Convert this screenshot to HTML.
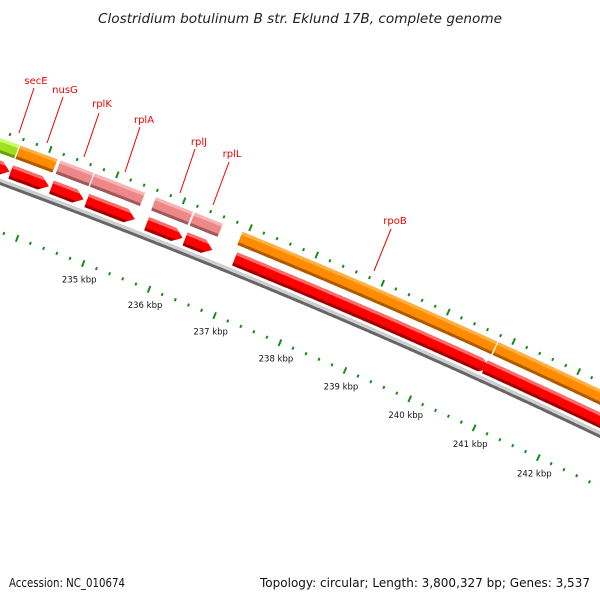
<!DOCTYPE html>
<html><head><meta charset="utf-8"><style>
html,body{margin:0;padding:0;background:#fff;}
svg{display:block;}
text{font-family:"DejaVu Sans","Liberation Sans",sans-serif;}
</style></head><body>
<svg id="chart" width="600" height="600" viewBox="0 0 600 600" xmlns="http://www.w3.org/2000/svg">
<text x="300" y="23" text-anchor="middle" font-size="13" font-style="italic" fill="#222" textLength="404" lengthAdjust="spacingAndGlyphs">Clostridium botulinum B str. Eklund 17B, complete genome</text>
<g id="track"></g>
<g id="labels"></g>
<text x="9" y="587" font-size="12.5" fill="#111" textLength="116" lengthAdjust="spacingAndGlyphs">Accession: NC_010674</text>
<text x="260" y="587" font-size="12.5" fill="#111" textLength="330" lengthAdjust="spacingAndGlyphs">Topology: circular; Length: 3,800,327 bp; Genes: 3,537</text>
</svg>
<script>
// data (kbp)
const fwdNames = ["secE","nusG","rplK","rplA","rplJ","rplL","rpoB","next-fwd"];
const fwdStart = [233.27,233.59,234.19,234.70,235.62,236.20,236.92,240.81];
const fwdEnd   = [233.57,234.14,234.68,235.45,236.17,236.62,240.79,244.5];
const fwdKind  = ["lime","orange","pink","pink","pink","pink","orange","orange"];
const revStart = [233.0,233.59,234.20,234.73,235.63,236.21,236.96,240.78];
const revEnd   = [233.57,234.16,234.68,235.45,236.17,236.62,240.85,244.5];
const tickStart = 232.6;
const tickEnd = 244;
const kbpLabels = [235,236,237,238,239,240,241,242];
const geneLabelNames = ["secE","nusG","rplK","rplA","rplJ","rplL","rpoB"];

// geometry
const PX = 70.7, K0 = 238.5, R0 = 6950;
const PHI0 = 23.1*Math.PI/180;
const AX = 312.5, AY = 356.5;
const CX = AX - R0*Math.sin(PHI0), CY = AY + R0*Math.cos(PHI0);
function pos(k, off){
  const phi = PHI0 + (k-K0)*PX/R0;
  const r = R0 + off;
  return [CX + r*Math.sin(phi), CY - r*Math.cos(phi)];
}
const NS = "http://www.w3.org/2000/svg";
const track = document.getElementById('track');
const labels = document.getElementById('labels');
function mk(tag, attrs, parent){const e=document.createElementNS(NS,tag);for(const k in attrs)e.setAttribute(k,attrs[k]);parent.appendChild(e);return e;}

function strip(k1,k2,rin,rout,a,b,tipK){
  const mid=(rin+rout)/2, half=(rout-rin)/2;
  const kend = r => k2 - (tipK? tipK*Math.abs(r-mid)/half : 0);
  const pts=[];
  const eb=kend(b);
  for(let k=k1;k<eb;k+=0.02) pts.push(pos(k,b));
  pts.push(pos(eb,b));
  if(tipK && mid>a && mid<b) pts.push(pos(k2,mid));
  const ea=kend(a);
  pts.push(pos(ea,a));
  for(let k=ea;k>k1;k-=0.02) pts.push(pos(k,a));
  pts.push(pos(k1,a));
  return pts.map(p=>p[0].toFixed(1)+','+p[1].toFixed(1)).join(' ');
}
const palettes = {
  lime:['#6aa000','#a0e020','#ccff66'],
  orange:['#b05a00','#ff8c00','#ffb040'],
  pink:['#a05858','#ee8888','#f8b4b4'],
  red:['#a00000','#ff0000','#ff6a6a'],
  gray:['#666666','#8c8c8c','#cfcfcf']
};
function band(k1,k2,rin,rout,pal,tipK,name){
  const g = mk('g',{},track);
  
  
  const c = palettes[pal];
  mk('polygon',{points:strip(k1,k2,rin,rout,rin,rout,tipK),fill:c[0]},g);
  mk('polygon',{points:strip(k1,k2,rin,rout,rin+3,rout,tipK),fill:c[1]},g);
  mk('polygon',{points:strip(k1,k2,rin,rout,rout-3,rout,tipK),fill:c[2]},g);
  return g;
}

// backbone
const bb = band(231.5,245,44,50,'gray',0,'backbone');


// ticks
for(let i=0;;i++){
  const k = tickStart + i*0.2;
  if(k>tickEnd) break;
  const major = Math.abs(k-Math.round(k))<0.01;
  const len = major?7:3;
  const a1=pos(k,-len/2), a2=pos(k,len/2);
  const t1 = mk('line',{x1:a1[0],y1:a1[1],x2:a2[0],y2:a2[1],stroke:'#1a8a1a','stroke-width':2},track);
  
  
  const b1=pos(k,95-len/2), b2=pos(k,95+len/2);
  const t2 = mk('line',{x1:b1[0],y1:b1[1],x2:b2[0],y2:b2[1],stroke:'#1a8a1a','stroke-width':2},track);
  
  
}
kbpLabels.forEach(k=>{
  const p = pos(k,0);
  const t = mk('text',{x:p[0]-4,y:p[1]+19,'text-anchor':'middle','font-size':'8.5',fill:'#111'},labels);
  t.textContent = k+' kbp';
  
  
});

// features
fwdStart.forEach((s,i)=>{
  band(s,fwdEnd[i],74,88,fwdKind[i],0,'gene-'+fwdNames[i]);
});
revStart.forEach((s,i)=>{
  const tip=Math.min(0.13,(revEnd[i]-s)/3);
  band(s,revEnd[i],53,67,'red',tip,'cds-arrow');
});

// gene labels with leader lines
const labelPos = [[36,84],[65,93],[102,107],[144,123],[199,145],[232,157],[395,224]];
const lineEnds = [[34,88,19,133],[63,97,47,143],[99,113,84,157],[140,127,125,172],[195,149,180,193],[229,162,213,205],[391,229,374,271]];
geneLabelNames.forEach((n,i)=>{
  const L = lineEnds[i];
  const ln = mk('line',{x1:L[0],y1:L[1],x2:L[2],y2:L[3],stroke:'#ee0000','stroke-width':1},labels);
  
  
  const t = mk('text',{x:labelPos[i][0],y:labelPos[i][1],'text-anchor':'middle','font-size':'10',fill:'#ee0000'},labels);
  t.textContent = n;
  
  
});
</script>
</body></html>
